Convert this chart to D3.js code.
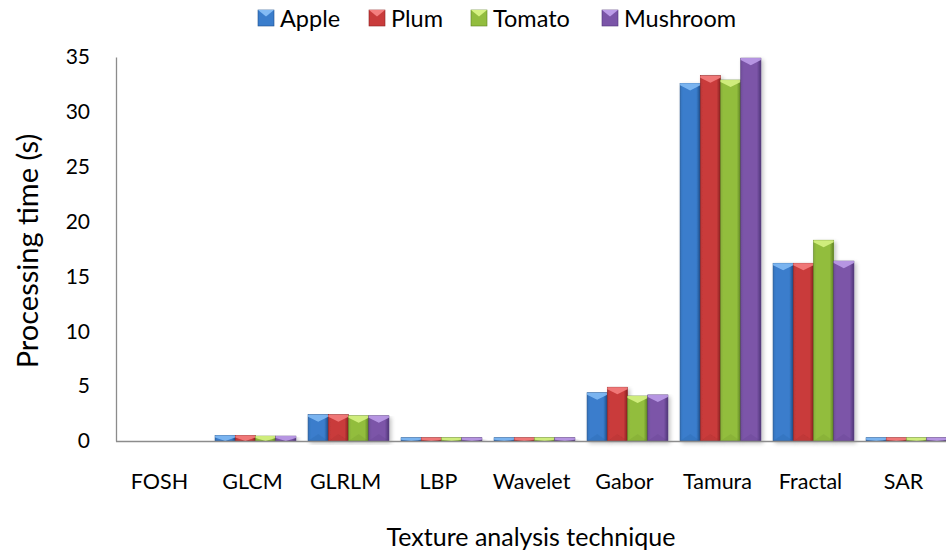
<!DOCTYPE html>
<html>
<head>
<meta charset="utf-8">
<script src="https://cdn.jsdelivr.net/npm/d3@7"></script>
<style>
  html, body { margin: 0; padding: 0; background: #fff; }
  svg { display: block; }
  text { font-family: Lato, "Open Sans", "Liberation Sans", sans-serif; fill: #000; }
</style>
</head>
<body>
<svg id="chart" width="946" height="558"></svg>
<script>
// Processing time (s) per texture analysis technique and fruit/vegetable
const techniques = ["FOSH", "GLCM", "GLRLM", "LBP", "Wavelet", "Gabor", "Tamura", "Fractal", "SAR"];
const seriesNames = ["Apple", "Plum", "Tomato", "Mushroom"];
const apple    = [0, 0.5, 2.4, 0.3, 0.3, 4.4, 32.6, 16.2, 0.3];
const plum     = [0, 0.5, 2.4, 0.3, 0.3, 4.9, 33.3, 16.2, 0.3];
const tomato   = [0, 0.45, 2.3, 0.3, 0.3, 4.1, 32.9, 18.3, 0.3];
const mushroom = [0, 0.45, 2.3, 0.3, 0.3, 4.2, 34.9, 16.4, 0.3];
const yTicks = [0, 5, 10, 15, 20, 25, 30, 35];

const seriesValues = [apple, plum, tomato, mushroom];
const colors = ["#3a7dcc", "#c93b3b", "#92bd3e", "#7b55a8"];
const lights = ["#82baf4", "#f47e7e", "#d6f282", "#bc9ce8"];
const darks  = ["#1f4f8a", "#8a2222", "#5e8222", "#4f3478"];

const svg = d3.select("#chart");
const left = 116, plotTop = 57, plotBottom = 441;

const x0 = d3.scaleBand().domain(techniques).range([left, 953]).paddingInner(0).paddingOuter(0);
const x1 = d3.scaleBand().domain(seriesNames).range([0, x0.bandwidth()]).paddingInner(0).paddingOuter(0.3);
const y = d3.scaleLinear().domain([0, 35]).range([plotBottom, plotTop]);

const defs = svg.append("defs");
seriesNames.forEach((s, i) => {
  const g = defs.append("linearGradient").attr("id", "grad" + i)
    .attr("x1", "0").attr("x2", "1").attr("y1", "0").attr("y2", "0");
  g.append("stop").attr("offset", "0").attr("stop-color", d3.color(colors[i]).darker(0.25));
  g.append("stop").attr("offset", "0.15").attr("stop-color", colors[i]);
  g.append("stop").attr("offset", "0.8").attr("stop-color", colors[i]);
  g.append("stop").attr("offset", "1").attr("stop-color", darks[i]);
});
const shadow = defs.append("filter").attr("id", "shadow")
  .attr("x", "-20%").attr("y", "-5%").attr("width", "160%").attr("height", "120%");
shadow.append("feGaussianBlur").attr("in", "SourceAlpha").attr("stdDeviation", 2);
shadow.append("feOffset").attr("dx", 2).attr("dy", 2).attr("result", "b");
shadow.append("feComponentTransfer").append("feFuncA").attr("type", "linear").attr("slope", 0.25);
const merge = shadow.append("feMerge");
merge.append("feMergeNode");
merge.append("feMergeNode").attr("in", "SourceGraphic");

// axes
const yAxis = d3.axisLeft(y).tickValues(yTicks).tickSize(0).tickPadding(26);
const gy = svg.append("g").attr("transform", `translate(${left},0)`).call(yAxis);
gy.select(".domain").attr("stroke", "#8c8c8c").attr("stroke-width", 1.3);
gy.selectAll("text").style("font-size", "21px");

// bars
const groups = svg.append("g").selectAll("g").data(techniques).join("g")
  .attr("transform", d => `translate(${x0(d)},0)`);

groups.each(function(t, ti) {
  const g = d3.select(this);
  seriesNames.forEach((s, si) => {
    const v = seriesValues[si][ti];
    if (v <= 0) return;
    const bx = x1(s), bw = x1.bandwidth();
    const top = y(v), bot = y(0), h = bot - top;
    const bar = g.append("g").attr("filter", "url(#shadow)");
    bar.append("rect").attr("x", bx).attr("y", top).attr("width", bw).attr("height", h)
      .attr("fill", `url(#grad${si})`)
      .attr("stroke", darks[si]).attr("stroke-width", 0.6);
    const bev = Math.min(bw * 0.35, h);
    const band = Math.min(2, h);
    // top bevel: light strip with a V pointing down
    bar.append("path")
      .attr("d", `M${bx},${top} L${bx + bw},${top} L${bx + bw},${top + band} L${bx + bw / 2},${top + bev} L${bx},${top + band} Z`)
      .attr("fill", lights[si]).attr("opacity", 0.9);
    // bottom bevel: faint darker wedge
    if (h > 20) {
      bar.append("path")
        .attr("d", `M${bx},${bot} L${bx + bw / 2},${bot - bev} L${bx + bw},${bot} Z`)
        .attr("fill", darks[si]).attr("opacity", 0.15);
    }
  });
});

// x axis line on top of bar bases
svg.append("line").attr("x1", left).attr("x2", 953).attr("y1", plotBottom + 0.5).attr("y2", plotBottom + 0.5)
  .attr("stroke", "#8c8c8c").attr("stroke-width", 1.3);

// category labels
svg.append("g").selectAll("text").data(techniques).join("text")
  .attr("x", d => x0(d) + x0.bandwidth() / 2 - 3)
  .attr("y", 489)
  .attr("text-anchor", "middle")
  .style("font-size", "21.5px")
  .text(d => d);

// axis titles
svg.append("text").attr("x", 531).attr("y", 546).attr("text-anchor", "middle")
  .style("font-size", "25px").text("Texture analysis technique");
svg.append("text").attr("transform", "translate(38,251) rotate(-90)").attr("text-anchor", "middle")
  .style("font-size", "29px").text("Processing time (s)");

// legend
const legendX = [258, 369, 471, 602];
const leg = svg.append("g").selectAll("g").data(seriesNames).join("g")
  .attr("transform", (d, i) => `translate(${legendX[i]},10)`);
leg.append("rect").attr("width", 16).attr("height", 16)
  .attr("fill", (d, i) => colors[i]).attr("stroke", (d, i) => darks[i]).attr("stroke-width", 0.6);
leg.append("path").attr("d", "M0,0 L16,0 L8,6.5 Z").attr("fill", (d, i) => lights[i]);
leg.append("text").attr("x", 22).attr("y", 16.5).style("font-size", "23.5px").text(d => d);
</script>
</body>
</html>
